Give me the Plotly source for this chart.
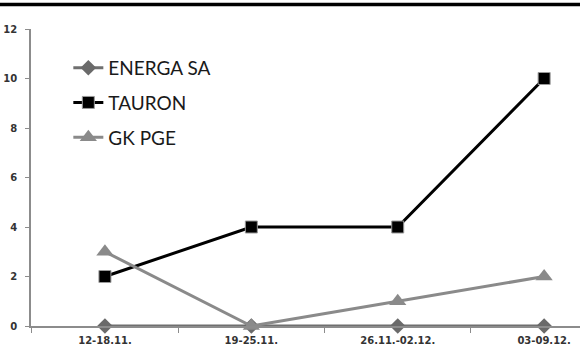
import plotly.graph_objects as go

categories = ["12-18.11.", "19-25.11.", "26.11.-02.12.", "03-09.12."]
energa = [0, 0, 0, 0]
tauron = [2, 4, 4, 10]
pge = [3, 0, 1, 2]
y_ticks = [0, 2, 4, 6, 8, 10, 12]

fig = go.Figure()
fig.add_trace(go.Scatter(
    x=categories, y=energa, name="ENERGA SA", mode="lines+markers",
    line=dict(color="#6f6f6f", width=3),
    marker=dict(symbol="diamond", size=12, color="#6a6a6a"),
    cliponaxis=False, legendgroup="a"))
fig.add_trace(go.Scatter(
    x=categories, y=tauron, name="TAURON", mode="lines+markers",
    line=dict(color="#000000", width=3),
    marker=dict(symbol="square", size=12, color="#000000",
                line=dict(color="#9a9a9a", width=1)),
    cliponaxis=False, legendgroup="b"))
fig.add_trace(go.Scatter(
    x=categories, y=pge, name="GK PGE", mode="lines+markers",
    line=dict(color="#8a8a8a", width=3),
    marker=dict(symbol="triangle-up", size=15, color="#8a8a8a"),
    cliponaxis=False, legendgroup="c"))

fig.update_layout(
    width=580, height=363,
    margin=dict(l=31, r=0, t=29, b=37),
    paper_bgcolor="white", plot_bgcolor="white",
    showlegend=True,
    legend=dict(x=0.068, y=0.933, xanchor="left", yanchor="top",
                font=dict(family="Lato", size=19, color="#1a1a1a"),
                bgcolor="rgba(0,0,0,0)", traceorder="grouped",
                tracegroupgap=7),
    xaxis=dict(type="category", range=[-0.505, 3.245],
               showline=True, linecolor="#8c8c8c", linewidth=1.5,
               ticks="outside", tickson="boundaries", ticklen=5,
               tickcolor="#8c8c8c", showgrid=False, zeroline=False,
               ticklabelstandoff=4,
               tickfont=dict(family="DejaVu Sans", size=10, color="#333333",
                             weight="bold")),
    yaxis=dict(range=[0, 12], tickvals=y_ticks,
               showline=True, linecolor="#8c8c8c", linewidth=1.5,
               ticks="outside", ticklen=4, tickcolor="#8c8c8c",
               showgrid=False, zeroline=False, ticklabelstandoff=6,
               tickfont=dict(family="DejaVu Sans", size=10, color="#333333",
                             weight="bold")),
    shapes=[dict(type="line", xref="paper", yref="paper",
                 x0=-0.1, x1=1.1, y0=1.0825, y1=1.0825,
                 line=dict(color="black", width=3.5))],
)

fig.write_html("out.html")
